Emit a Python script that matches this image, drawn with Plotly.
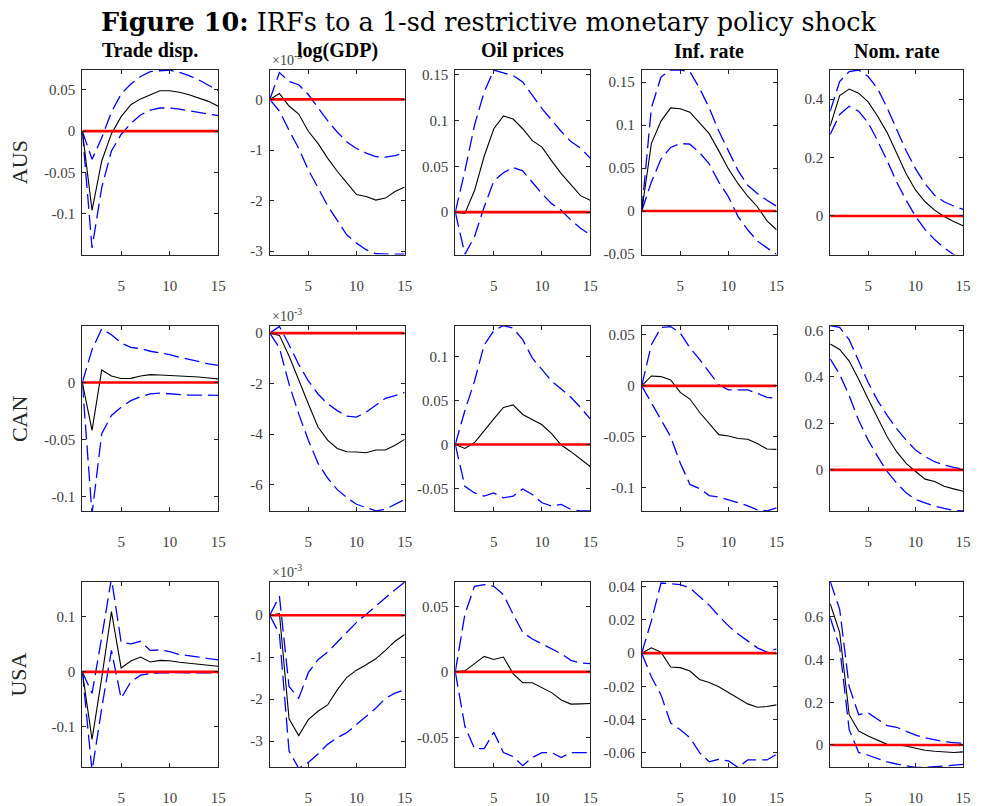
import plotly.graph_objects as go
from plotly.subplots import make_subplots

# Horizons
horizons = list(range(1, 16))

countries = ["AUS", "CAN", "USA"]
variables = ["Trade disp.", "log(GDP)", "Oil prices", "Inf. rate", "Nom. rate"]

# log(GDP) responses are stored in units of 10^-3
# ---------------- AUS ----------------
aus_trade_med = [0, -0.0956, -0.036, -0.003, 0.0175, 0.032, 0.039, 0.044, 0.0488, 0.0488, 0.047, 0.044, 0.040, 0.036, 0.030]
aus_trade_hi = [0, -0.034, -0.008, 0.023, 0.045, 0.057, 0.066, 0.072, 0.073, 0.0738, 0.071, 0.067, 0.062, 0.056, 0.049]
aus_trade_lo = [0, -0.141, -0.068, -0.024, -0.004, 0.0095, 0.0195, 0.0254, 0.028, 0.028, 0.0266, 0.0246, 0.0226, 0.020, 0.0187]

aus_gdp_med = [0, 0.116, -0.13, -0.29, -0.63, -0.87, -1.16, -1.42, -1.65, -1.88, -1.92, -1.99, -1.95, -1.82, -1.73]
aus_gdp_hi = [0, 0.53, 0.355, 0.29, 0.097, -0.16, -0.42, -0.645, -0.84, -0.97, -1.06, -1.13, -1.14, -1.11, -1.06]
aus_gdp_lo = [0, -0.23, -0.61, -0.97, -1.39, -1.74, -2.10, -2.39, -2.68, -2.84, -2.97, -3.05, -3.06, -3.06, -3.06]

aus_oil_med = [0, -0.0014, 0.0236, 0.061, 0.091, 0.105, 0.1016, 0.091, 0.078, 0.071, 0.056, 0.042, 0.030, 0.018, 0.0129]
aus_oil_hi = [0, 0.045, 0.095, 0.131, 0.155, 0.152, 0.149, 0.142, 0.127, 0.113, 0.1006, 0.088, 0.077, 0.070, 0.059]
aus_oil_lo = [0, -0.046, -0.0265, 0.0057, 0.034, 0.043, 0.0487, 0.045, 0.0326, 0.020, 0.0093, 0.002, -0.0086, -0.0175, -0.0247]

aus_inf_med = [0, 0.0785, 0.1046, 0.12, 0.119, 0.115, 0.1027, 0.090, 0.070, 0.049, 0.0318, 0.0172, 0.005, -0.0115, -0.0218]
aus_inf_hi = [0, 0.12, 0.156, 0.164, 0.164, 0.162, 0.143, 0.12, 0.093, 0.070, 0.047, 0.030, 0.0203, 0.0126, 0.0057]
aus_inf_lo = [0, 0.0337, 0.0605, 0.074, 0.0785, 0.0778, 0.068, 0.055, 0.0337, 0.0165, -0.0065, -0.0218, -0.035, -0.043, -0.0506]

aus_nom_med = [0.3076, 0.412, 0.434, 0.42, 0.39, 0.341, 0.285, 0.2175, 0.144, 0.088, 0.0485, 0.020, -0.002, -0.019, -0.034]
aus_nom_hi = [0.358, 0.46, 0.494, 0.499, 0.477, 0.435, 0.37, 0.296, 0.223, 0.161, 0.110, 0.071, 0.0485, 0.034, 0.0225]
aus_nom_lo = [0.279, 0.347, 0.375, 0.358, 0.319, 0.257, 0.189, 0.116, 0.054, -0.002, -0.047, -0.081, -0.109, -0.132, -0.15]

# ---------------- CAN ----------------
can_trade_med = [0, -0.0418, 0.011, 0.0058, 0.0035, 0.0037, 0.0058, 0.0069, 0.0066, 0.0063, 0.006, 0.0058, 0.0049, 0.004, 0.0032]
can_trade_hi = [0, 0.0288, 0.047, 0.0418, 0.0346, 0.0308, 0.0297, 0.0274, 0.026, 0.0245, 0.0222, 0.0202, 0.018, 0.0164, 0.015]
can_trade_lo = [0, -0.115, -0.0447, -0.0288, -0.0216, -0.0158, -0.0124, -0.010, -0.0092, -0.010, -0.0107, -0.011, -0.011, -0.0112, -0.0112]

can_gdp_med = [0, -0.09, -0.91, -1.89, -2.80, -3.72, -4.24, -4.57, -4.70, -4.71, -4.74, -4.63, -4.63, -4.44, -4.21]
can_gdp_hi = [0, 0.26, -0.46, -1.24, -1.89, -2.41, -2.80, -3.07, -3.29, -3.33, -3.13, -2.87, -2.58, -2.48, -2.35]
can_gdp_lo = [0, -0.59, -2.02, -3.20, -4.24, -5.15, -5.74, -6.20, -6.52, -6.78, -6.91, -7.04, -6.98, -6.78, -6.59]

can_oil_med = [0, -0.0045, 0.0022, 0.016, 0.029, 0.042, 0.0449, 0.034, 0.0284, 0.0224, 0.0123, -0.0007, -0.0082, -0.0168, -0.025]
can_oil_hi = [0, 0.0385, 0.072, 0.113, 0.129, 0.135, 0.132, 0.119, 0.098, 0.085, 0.072, 0.063, 0.0535, 0.042, 0.029]
can_oil_lo = [0, -0.0475, -0.055, -0.0587, -0.055, -0.0606, -0.0587, -0.0505, -0.0568, -0.0662, -0.070, -0.068, -0.0737, -0.0755, -0.0755]

can_inf_med = [0, 0.0097, 0.0091, 0.0058, -0.0065, -0.013, -0.026, -0.0373, -0.048, -0.0493, -0.0518, -0.0525, -0.0567, -0.0622, -0.0625]
can_inf_hi = [0, 0.0405, 0.0574, 0.0583, 0.052, 0.0373, 0.026, 0.0139, 0.001, -0.0039, -0.0042, -0.0039, -0.0075, -0.0113, -0.0123]
can_inf_lo = [0, -0.0162, -0.0324, -0.050, -0.076, -0.097, -0.101, -0.108, -0.1095, -0.112, -0.115, -0.118, -0.122, -0.123, -0.120]

can_nom_med = [0.542, 0.518, 0.468, 0.39, 0.305, 0.22, 0.142, 0.078, 0.028, -0.007, -0.040, -0.050, -0.071, -0.082, -0.092]
can_nom_hi = [0.621, 0.613, 0.56, 0.468, 0.376, 0.298, 0.234, 0.177, 0.128, 0.085, 0.057, 0.035, 0.021, 0.011, 0.003]
can_nom_lo = [0.478, 0.411, 0.319, 0.213, 0.128, 0.057, -0.007, -0.057, -0.099, -0.128, -0.142, -0.156, -0.166, -0.174, -0.177]

# ---------------- USA ----------------
usa_trade_med = [0, -0.1228, -0.011, 0.1096, 0.0072, 0.0198, 0.027, 0.018, 0.021, 0.0204, 0.0174, 0.0156, 0.0138, 0.0126, 0.0102]
usa_trade_hi = [0, -0.039, 0.063, 0.170, 0.054, 0.051, 0.0557, 0.039, 0.040, 0.037, 0.0317, 0.030, 0.027, 0.024, 0.022]
usa_trade_lo = [0, -0.18, -0.066, 0.039, -0.048, -0.018, -0.006, -0.003, -0.0018, -0.0012, -0.0012, -0.0018, -0.0018, -0.0024, -0.0018]

usa_gdp_med = [0, 0.04, -2.47, -2.87, -2.49, -2.29, -2.14, -1.78, -1.48, -1.31, -1.18, -1.04, -0.84, -0.62, -0.46]
usa_gdp_hi = [0, 0.456, -1.70, -1.98, -1.37, -1.06, -0.88, -0.64, -0.41, -0.17, 0.02, 0.22, 0.42, 0.61, 0.79]
usa_gdp_lo = [0, -0.45, -3.24, -3.65, -3.51, -3.31, -3.08, -2.92, -2.80, -2.61, -2.41, -2.22, -1.98, -1.86, -1.78]

usa_oil_med = [0, 0.0008, 0.0063, 0.0118, 0.0095, 0.0113, -0.0013, -0.0083, -0.0083, -0.012, -0.0158, -0.0214, -0.0246, -0.0244, -0.0241]
usa_oil_hi = [0, 0.044, 0.0653, 0.0666, 0.0653, 0.059, 0.044, 0.0302, 0.0251, 0.0214, 0.0176, 0.0138, 0.0088, 0.0068, 0.0063]
usa_oil_lo = [0, -0.0415, -0.0585, -0.0585, -0.046, -0.0616, -0.0646, -0.0716, -0.0653, -0.0616, -0.0616, -0.0653, -0.0616, -0.0616, -0.0616]

usa_inf_med = [0, 0.0032, 0.0006, -0.0083, -0.0087, -0.0107, -0.0158, -0.0176, -0.0202, -0.0238, -0.0271, -0.0305, -0.0325, -0.0321, -0.0311]
usa_inf_hi = [0, 0.0194, 0.0422, 0.0416, 0.0412, 0.0392, 0.0343, 0.0289, 0.0224, 0.0164, 0.0115, 0.0071, 0.0032, 0.0006, 0.0026]
usa_inf_lo = [0, -0.0143, -0.0251, -0.042, -0.046, -0.0509, -0.0598, -0.0653, -0.0638, -0.0648, -0.0687, -0.0642, -0.0642, -0.0642, -0.0608]

usa_nom_med = [0.661, 0.527, 0.142, 0.065, 0.042, 0.023, 0.003, 0.0, -0.005, -0.015, -0.025, -0.029, -0.031, -0.035, -0.032]
usa_nom_hi = [0.766, 0.635, 0.273, 0.142, 0.150, 0.119, 0.091, 0.083, 0.065, 0.046, 0.034, 0.023, 0.015, 0.011, 0.008]
usa_nom_lo = [0.597, 0.458, 0.072, -0.035, -0.048, -0.063, -0.079, -0.089, -0.097, -0.105, -0.105, -0.102, -0.097, -0.093, -0.091]

# Per-panel y limits (tight to the bands) and tick labels
y_ranges = [
    [[-0.149, 0.0738], [-3.065, 0.58], [-0.0462, 0.155], [-0.0506, 0.164], [-0.132, 0.499]],
    [[-0.1124, 0.0499], [-7.045, 0.30], [-0.0755, 0.135], [-0.1231, 0.0593], [-0.177, 0.621]],
    [[-0.1737, 0.1635], [-3.63, 0.793], [-0.0729, 0.0686], [-0.0687, 0.0428], [-0.105, 0.763]],
]
y_ticks = [
    [[-0.1, -0.05, 0, 0.05], [-3, -2, -1, 0], [0, 0.05, 0.1, 0.15], [-0.05, 0, 0.05, 0.1, 0.15], [0, 0.2, 0.4]],
    [[-0.1, -0.05, 0], [-6, -4, -2, 0], [-0.05, 0, 0.05, 0.1], [-0.1, -0.05, 0, 0.05], [0, 0.2, 0.4, 0.6]],
    [[-0.1, 0, 0.1], [-3, -2, -1, 0], [-0.05, 0, 0.05], [-0.06, -0.04, -0.02, 0, 0.02, 0.04], [0, 0.2, 0.4, 0.6]],
]
x_ticks = [5, 10, 15]

responses = {
    "AUS": [(aus_trade_med, aus_trade_lo, aus_trade_hi), (aus_gdp_med, aus_gdp_lo, aus_gdp_hi),
            (aus_oil_med, aus_oil_lo, aus_oil_hi), (aus_inf_med, aus_inf_lo, aus_inf_hi),
            (aus_nom_med, aus_nom_lo, aus_nom_hi)],
    "CAN": [(can_trade_med, can_trade_lo, can_trade_hi), (can_gdp_med, can_gdp_lo, can_gdp_hi),
            (can_oil_med, can_oil_lo, can_oil_hi), (can_inf_med, can_inf_lo, can_inf_hi),
            (can_nom_med, can_nom_lo, can_nom_hi)],
    "USA": [(usa_trade_med, usa_trade_lo, usa_trade_hi), (usa_gdp_med, usa_gdp_lo, usa_gdp_hi),
            (usa_oil_med, usa_oil_lo, usa_oil_hi), (usa_inf_med, usa_inf_lo, usa_inf_hi),
            (usa_nom_med, usa_nom_lo, usa_nom_hi)],
}

W, H = 982, 806
col_px = [(83, 220), (272, 408), (459, 595), (647, 783), (837, 971)]
row_px = [(68, 255), (327, 515), (587, 775)]

SERIF = "Liberation Serif, Times New Roman, serif"
TITLE_SERIF = "DejaVu Serif, serif"
AX_COLOR = "#262626"
TICK_COLOR = "#404040"

fig = make_subplots(rows=3, cols=5)

for r, ctry in enumerate(countries):
    for c in range(5):
        med, lo, hi = responses[ctry][c]
        for band in (hi, lo):
            fig.add_trace(go.Scatter(x=horizons, y=band, mode="lines",
                                     line=dict(color="#0000ff", width=1.3, dash="15px,6px"),
                                     showlegend=False, hoverinfo="skip"), row=r + 1, col=c + 1)
        fig.add_trace(go.Scatter(x=horizons, y=med, mode="lines",
                                 line=dict(color="black", width=1.1),
                                 showlegend=False), row=r + 1, col=c + 1)
        fig.add_trace(go.Scatter(x=[horizons[0], horizons[-1]], y=[0, 0], mode="lines",
                                 line=dict(color="#ff0000", width=2.6),
                                 showlegend=False, hoverinfo="skip"), row=r + 1, col=c + 1)

        x0, x1 = col_px[c]
        y0, y1 = row_px[r]
        fig.update_xaxes(domain=[x0 / W, x1 / W], range=[1, 15], tickvals=x_ticks,
                         ticktext=[str(t) for t in x_ticks],
                         row=r + 1, col=c + 1)
        fig.update_yaxes(domain=[1 - y1 / H, 1 - y0 / H], range=y_ranges[r][c],
                         tickvals=y_ticks[r][c], ticktext=["%g" % t for t in y_ticks[r][c]],
                         row=r + 1, col=c + 1)

fig.update_xaxes(showline=True, linecolor=AX_COLOR, linewidth=1, mirror="allticks",
                 ticks="inside", ticklen=4, tickcolor=AX_COLOR, showgrid=False, zeroline=False,
                 ticklabelstandoff=17,
                 tickfont=dict(family=SERIF, size=15, color=TICK_COLOR))
fig.update_yaxes(showline=True, linecolor=AX_COLOR, linewidth=1, mirror="allticks",
                 ticks="inside", ticklen=4, tickcolor=AX_COLOR, showgrid=False, zeroline=False,
                 ticklabelstandoff=3,
                 tickfont=dict(family=SERIF, size=15, color=TICK_COLOR))

annotations = []
# exponent labels for the log(GDP) panels
for r in range(3):
    annotations.append(dict(text="\u00d710<sup>-3</sup>", x=col_px[1][0] / W, y=1 - row_px[r][0] / H,
                            xref="paper", yref="paper", xanchor="left", yanchor="bottom",
                            showarrow=False, font=dict(family=SERIF, size=14, color=TICK_COLOR)))
# column titles
for c, name in enumerate(variables):
    annotations.append(dict(text="<b>%s</b>" % name, x=(col_px[c][0] + col_px[c][1]) / 2 / W,
                            y=1 - 62 / H, xref="paper", yref="paper", xanchor="center",
                            yanchor="bottom", showarrow=False,
                            font=dict(family=SERIF, size=20, color="black")))
# row labels
for r, ctry in enumerate(countries):
    annotations.append(dict(text=ctry, x=19 / W, y=1 - (row_px[r][0] + row_px[r][1]) / 2 / H,
                            xref="paper", yref="paper", xanchor="center", yanchor="middle",
                            textangle=-90, showarrow=False,
                            font=dict(family=SERIF, size=22, color="#262626")))
# figure title
annotations.append(dict(text="<b>Figure 10:</b> IRFs to a 1-sd restrictive monetary policy shock",
                        x=493 / W, y=1 - 19 / H, xref="paper", yref="paper", xanchor="center",
                        yanchor="middle", showarrow=False,
                        font=dict(family=TITLE_SERIF, size=25.5, color="black")))

fig.update_layout(width=W, height=H, margin=dict(l=0, r=0, t=0, b=0),
                  paper_bgcolor="white", plot_bgcolor="white",
                  annotations=annotations, showlegend=False)

fig.write_html("out.html")
